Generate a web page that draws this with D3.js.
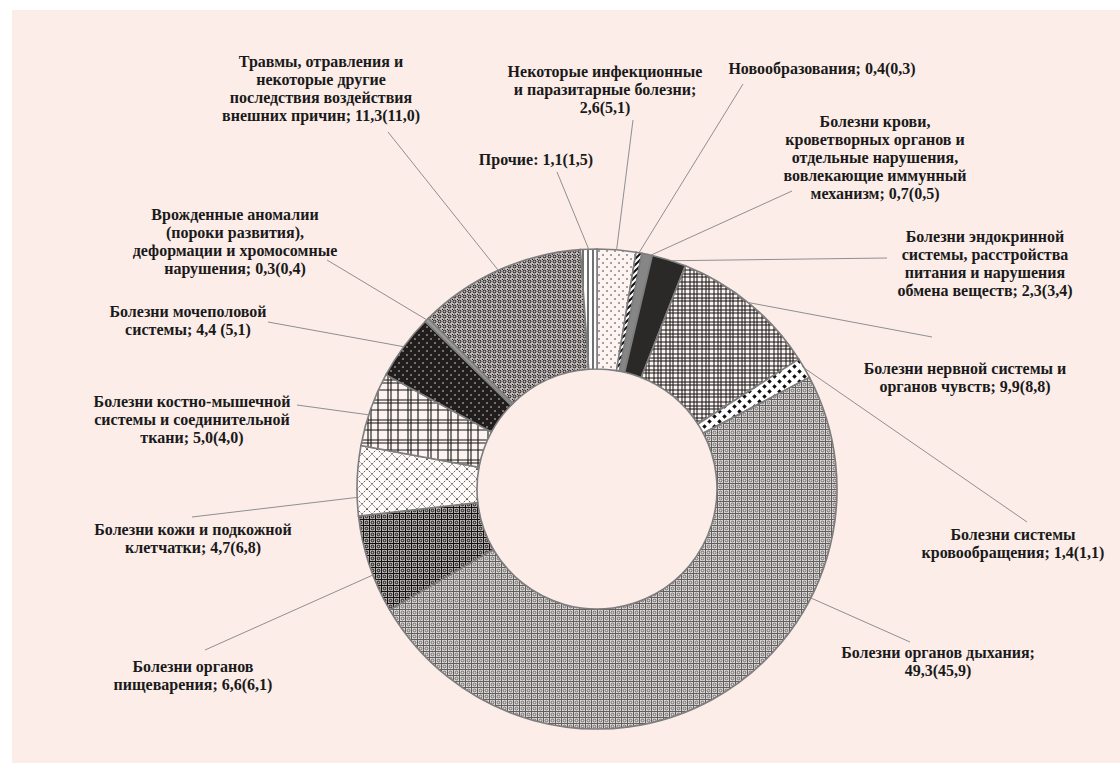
<!DOCTYPE html>
<html>
<meta charset="utf-8">
<head>
  <script src="https://d3js.org/d3.v7.min.js"></script>
  <style>
    body { margin: 0; background: #ffffff; }
  </style>
</head>
<body>
<div id="my_dataviz"></div>
<script>

// --- data: shares of causes, current year and (previous year) ---
var categories = [
  "Некоторые инфекционные|и паразитарные болезни;|{a}({b})",
  "Новообразования; {a}({b})",
  "Болезни крови,|кроветворных органов и|отдельные нарушения,|вовлекающие иммунный|механизм; {a}({b})",
  "Болезни эндокринной|системы, расстройства|питания и нарушения|обмена веществ; {a}({b})",
  "Болезни нервной системы и|органов чувств; {a}({b})",
  "Болезни системы|кровообращения; {a}({b})",
  "Болезни органов дыхания;|{a}({b})",
  "Болезни органов|пищеварения; {a}({b})",
  "Болезни кожи и подкожной|клетчатки; {a}({b})",
  "Болезни костно-мышечной|системы и соединительной|ткани; {a}({b})",
  "Болезни мочеполовой|системы; {a} ({b})",
  "Врожденные аномалии|(пороки развития),|деформации и хромосомные|нарушения; {a}({b})",
  "Травмы, отравления и|некоторые другие|последствия воздействия|внешних причин; {a}({b})",
  "Прочие: {a}({b})"
];
var values   = [2.6, 0.4, 0.7, 2.3, 9.9, 1.4, 49.3, 6.6, 4.7, 5.0, 4.4, 0.3, 11.3, 1.1];
var previous = [5.1, 0.3, 0.5, 3.4, 8.8, 1.1, 45.9, 6.1, 6.8, 4.0, 5.1, 0.4, 11.0, 1.5];

// --- layout only: label centre (x, first line y), leader start, optional leader angle (deg) ---
var labelPos = [[605, 72], [822, 69], [875, 122], [985, 237], [965, 369], [1013, 535], [938, 653],
                [193, 667], [193, 530], [192, 402], [188, 312], [235, 215], [321, 62], [536, 160]];
var leaderFrom = [[633, 120], [743, 84], [792, 191], [887, 258], [932, 337], [1027, 522], [910, 642],
                  [205, 650], [192, 517], [297, 405], [268, 322], [327, 260], [388, 132], [557, 172]];
var leaderAngle = [null, null, 13, 18, 39, null, 117, 249, 268, 288, null, null, null, null];
var fills = ["url(#p-dots)", "url(#p-diag)", "#868686", "#2b2828", "url(#p-plaid)", "url(#p-diamond)",
             "url(#p-resp)", "url(#p-digest)", "url(#p-skin)", "url(#p-grid)", "url(#p-urin)", "#9a9a9a",
             "url(#p-trauma)", "url(#p-vert)"];

var W = 1120, H = 763;
var cx = 597, cy = 489, rOuter = 240, rInner = 120;

var svg = d3.select("#my_dataviz").append("svg")
    .attr("width", W)
    .attr("height", H);

svg.append("rect")
    .attr("x", 12).attr("y", 10)
    .attr("width", W - 12).attr("height", H - 10)
    .attr("fill", "#fcede9");

// patterns
var defs = svg.append("defs");
function pat(id, size, bg) {
  var p = defs.append("pattern").attr("id", id)
    .attr("patternUnits", "userSpaceOnUse")
    .attr("width", size).attr("height", size);
  p.append("rect").attr("width", size).attr("height", size).attr("fill", bg);
  return p;
}
var p;
p = pat("p-dots", 8, "#fdf4f1");
p.append("circle").attr("cx", 2).attr("cy", 2).attr("r", 0.8).attr("fill", "#333");
p.append("circle").attr("cx", 6).attr("cy", 6).attr("r", 0.8).attr("fill", "#333");

p = pat("p-diag", 6, "#ffffff");
p.append("path").attr("d", "M-1,7 L7,-1 M-1,1 L1,-1 M5,7 L7,5").attr("stroke", "#111").attr("stroke-width", 2);

p = pat("p-plaid", 12, "#fdf4f1");
p.append("path").attr("d", "M1,0V12M4,0V12M9,0V12M0,1H12M0,4H12M0,9H12")
  .attr("stroke", "#111").attr("stroke-width", 1);

p = pat("p-diamond", 10, "#ffffff");
p.append("path").attr("d", "M2.5,0.2L4.8,2.5L2.5,4.8L0.2,2.5Z M7.5,5.2L9.8,7.5L7.5,9.8L5.2,7.5Z").attr("fill", "#111");

p = pat("p-resp", 6, "#ddd6d4");
p.append("path").attr("d", "M0,0.5H6M0.5,0V6").attr("stroke", "#5f5f5f").attr("stroke-width", 1);
p.append("circle").attr("cx", 3.5).attr("cy", 3.5).attr("r", 1.4).attr("fill", "none").attr("stroke", "#6a6a6a").attr("stroke-width", 1);

p = pat("p-digest", 6, "#b8b0ae");
p.append("path").attr("d", "M0,0.5H6M0.5,0V6").attr("stroke", "#111").attr("stroke-width", 1);
p.append("circle").attr("cx", 3.5).attr("cy", 3.5).attr("r", 1.3).attr("fill", "none").attr("stroke", "#111").attr("stroke-width", 1);

p = pat("p-skin", 10, "#fffaf8");
p.append("path").attr("d", "M0,0L10,10M10,0L0,10M-1,9L1,11M9,-1L11,1M-1,1L1,-1M9,11L11,9")
  .attr("stroke", "#333").attr("stroke-width", 0.8).attr("stroke-dasharray", "1.6 1");

p = pat("p-grid", 20, "#fdf4f1");
p.append("path").attr("d", "M1,0V20M11,0V20M14,0V20M0,1H20M0,11H20M0,14H20")
  .attr("stroke", "#151515").attr("stroke-width", 1.1);

p = pat("p-urin", 8, "#221d1d");
p.append("circle").attr("cx", 2).attr("cy", 2).attr("r", 0.8).attr("fill", "#ddd");
p.append("circle").attr("cx", 6).attr("cy", 6).attr("r", 0.8).attr("fill", "#ddd");

p = pat("p-trauma", 5, "#c2bab8");
p.append("circle").attr("cx", 2.5).attr("cy", 2.5).attr("r", 1.4).attr("fill", "none").attr("stroke", "#111").attr("stroke-width", 1);
p.append("rect").attr("x", 0).attr("y", 0).attr("width", 1).attr("height", 1).attr("fill", "#111");

p = pat("p-vert", 5, "#ffffff");
p.append("path").attr("d", "M1,0V5").attr("stroke", "#111").attr("stroke-width", 1.2);

// pie
var pie = d3.pie().sort(null).value(function(d) { return d; });
var arcs = pie(values);
var arc = d3.arc().innerRadius(rInner).outerRadius(rOuter);

var g = svg.append("g").attr("transform", "translate(" + cx + "," + cy + ")");

// leader lines
function fmt(v) { return v.toFixed(1).replace(".", ","); }
arcs.forEach(function(a, i) {
  var ang = leaderAngle[i] != null ? leaderAngle[i] * Math.PI / 180 : (a.startAngle + a.endAngle) / 2;
  var ex = cx + rOuter * Math.sin(ang), ey = cy - rOuter * Math.cos(ang);
  svg.append("line")
    .attr("x1", leaderFrom[i][0]).attr("y1", leaderFrom[i][1])
    .attr("x2", ex).attr("y2", ey)
    .attr("stroke", "#8f8f8f").attr("stroke-width", 1);
});

g.selectAll("path.slice")
  .data(arcs)
  .enter().append("path")
    .attr("class", "slice")
    .attr("d", arc)
    .attr("fill", function(d, i) { return fills[i]; })
    .attr("stroke", "#7d7d7d")
    .attr("stroke-width", 1.6);

// labels
categories.forEach(function(c, i) {
  var lines = c.replace("{a}", fmt(values[i])).replace("{b}", fmt(previous[i])).split("|");
  var t = svg.append("text")
    .attr("text-anchor", "middle")
    .attr("font-family", "Liberation Serif")
    .attr("font-weight", "bold")
    .attr("font-size", 16)
    .attr("fill", "#1a1a1a");
  lines.forEach(function(l, j) {
    t.append("tspan")
      .attr("x", labelPos[i][0])
      .attr("y", labelPos[i][1] + 5 + j * 18)
      .text(l);
  });
});

</script>
</body>
</html>
